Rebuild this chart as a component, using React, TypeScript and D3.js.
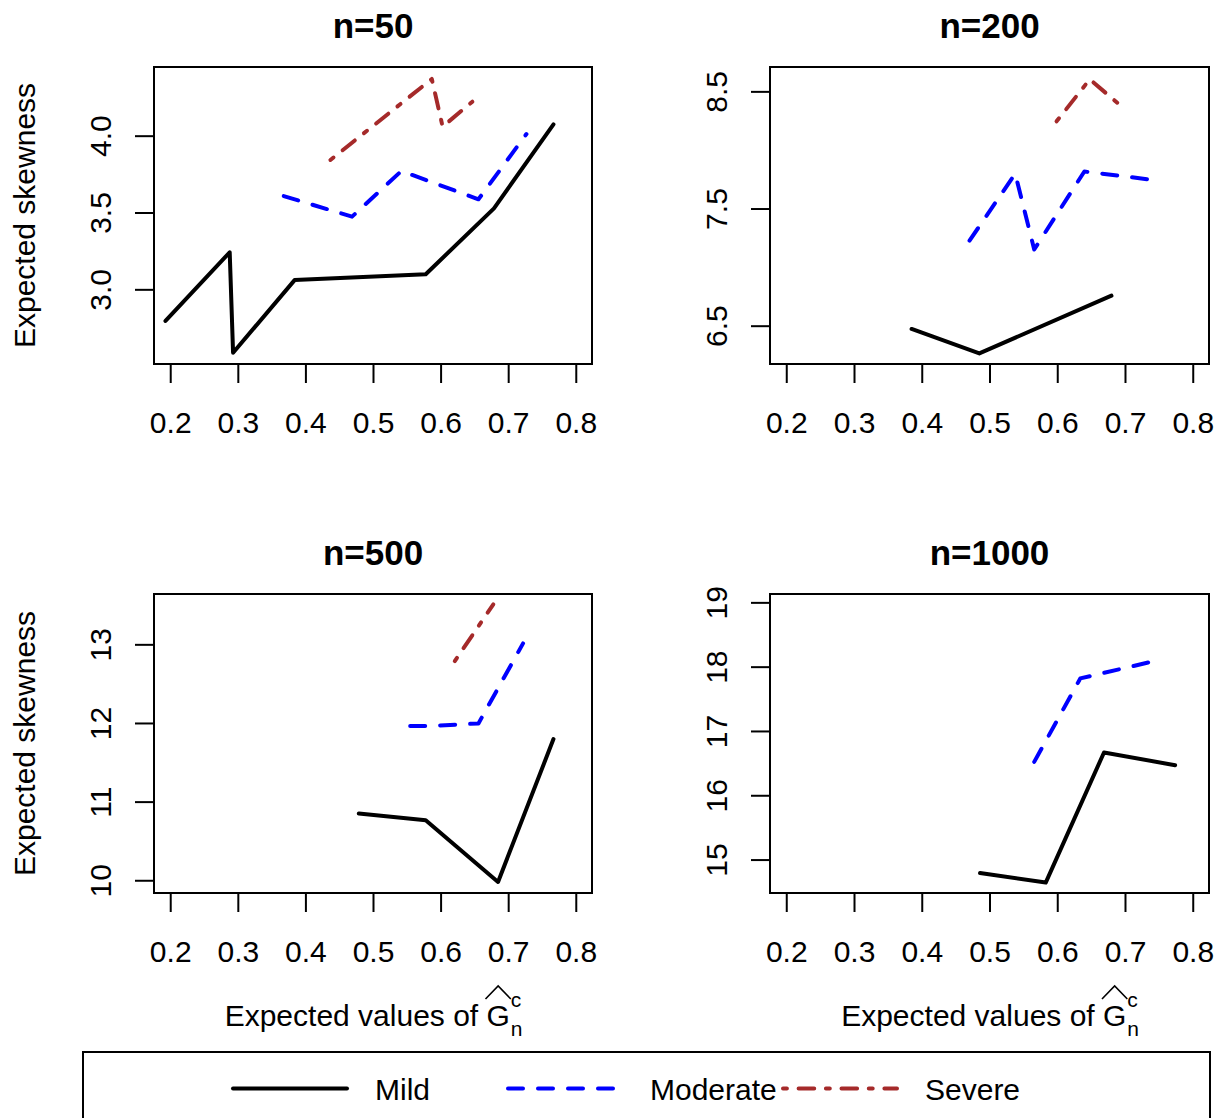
import React, { useEffect, useRef } from "react"
import * as d3 from "d3"

// values, [expected value of G, expected skewness]
const titles = ["n=50", "n=200", "n=500", "n=1000"]
const xTicks = [0.2, 0.3, 0.4, 0.5, 0.6, 0.7, 0.8]
const xLimits = [0.176, 0.824]

const mild50 = [[0.193, 2.794], [0.288, 3.241], [0.293, 2.587], [0.384, 3.06], [0.578, 3.098], [0.679, 3.527], [0.767, 4.074]]
const moderate50 = [[0.368, 3.607], [0.469, 3.473], [0.542, 3.77], [0.656, 3.586], [0.727, 4.011]]
const severe50 = [[0.437, 3.842], [0.587, 4.369], [0.603, 4.059], [0.647, 4.221]]

const mild200 = [[0.385, 6.472], [0.485, 6.263], [0.68, 6.756]]
const moderate200 = [[0.4705, 7.226], [0.538, 7.797], [0.566, 7.15], [0.64, 7.816], [0.749, 7.739]]
const severe200 = [[0.599, 8.244], [0.648, 8.603], [0.692, 8.386]]

const mild500 = [[0.479, 10.849], [0.578, 10.764], [0.685, 9.979], [0.767, 11.795]]
const moderate500 = [[0.555, 11.96], [0.578, 11.96], [0.656, 11.994], [0.722, 13.012]]
const severe500 = [[0.621, 12.787], [0.678, 13.509]]

const mild1000 = [[0.486, 14.792], [0.583, 14.642], [0.669, 16.665], [0.774, 16.468]]
const moderate1000 = [[0.566, 16.519], [0.634, 17.817], [0.735, 18.066]]
const severe1000: number[][] = []

const yLimits = [[2.514, 4.447], [6.173, 8.708], [9.838, 13.64], [14.48, 19.13]]
const yTicks = [[3.0, 3.5, 4.0], [6.5, 7.5, 8.5], [10, 11, 12, 13], [15, 16, 17, 18, 19]]
const yTickFormat = [".1f", ".1f", "d", "d"]

const seriesNames = ["Mild", "Moderate", "Severe"]
const seriesColors = ["#000000", "#0000FF", "#A52A2A"]
const seriesDash = [null, "15,15", "3.9,11.7,15.6,11.7"]
const panelData = [
  [mild50, moderate50, severe50],
  [mild200, moderate200, severe200],
  [mild500, moderate500, severe500],
  [mild1000, moderate1000, severe1000],
]

const W = 1219
const H = 1118
const cols = [[154, 592], [770, 1209]]
const rows = [[67, 364], [594, 893]]
const FONT = "'Liberation Sans', Arial, Helvetica, sans-serif"

export default function App() {
  const ref = useRef<SVGSVGElement>(null)

  useEffect(() => {
    const svg = d3.select(ref.current)
    svg.selectAll("*").remove()

    panelData.forEach((series, i) => {
      const [x0, x1] = cols[i % 2]
      const [y0, y1] = rows[Math.floor(i / 2)]
      const x = d3.scaleLinear().domain(xLimits).range([x0, x1])
      const y = d3.scaleLinear().domain(yLimits[i]).range([y1, y0])
      const g = svg.append("g")

      // axes (R style: outward ticks, rotated y labels)
      const xa = g.append("g").attr("transform", `translate(0,${y1})`)
        .call(d3.axisBottom(x).tickValues(xTicks).tickFormat(d3.format(".1f")).tickSize(19).tickSizeOuter(0))
      const ya = g.append("g").attr("transform", `translate(${x0},0)`)
        .call(d3.axisLeft(y).tickValues(yTicks[i]).tickFormat(d3.format(yTickFormat[i])).tickSize(19).tickSizeOuter(0))
      ;[xa, ya].forEach(a => {
        a.select(".domain").remove()
        a.selectAll("line").attr("stroke", "#000").attr("stroke-width", 2)
        a.selectAll("text").attr("font-family", FONT).attr("font-size", 30).attr("fill", "#000")
      })
      xa.selectAll("text").attr("y", 69).attr("dy", null)
      ya.selectAll("text")
        .attr("x", null).attr("dy", null)
        .attr("text-anchor", "middle")
        .attr("transform", "translate(-43,0) rotate(-90)")

      // lines
      const line = d3.line<number[]>().x(d => x(d[0])).y(d => y(d[1]))
      series.forEach((pts, k) => {
        if (!pts.length) return
        g.append("path")
          .attr("d", line(pts))
          .attr("fill", "none")
          .attr("stroke", seriesColors[k])
          .attr("stroke-width", 4)
          .attr("stroke-linecap", "round")
          .attr("stroke-linejoin", "round")
          .attr("stroke-dasharray", seriesDash[k])
      })

      g.append("rect")
        .attr("x", x0).attr("y", y0)
        .attr("width", x1 - x0).attr("height", y1 - y0)
        .attr("fill", "none").attr("stroke", "#000").attr("stroke-width", 2)

      g.append("text")
        .attr("x", (x0 + x1) / 2).attr("y", y0 - 29)
        .attr("text-anchor", "middle")
        .attr("font-family", FONT).attr("font-size", 35).attr("font-weight", "bold")
        .text(titles[i])

      if (i % 2 === 0) {
        g.append("text")
          .attr("transform", `translate(35,${(y0 + y1) / 2}) rotate(-90)`)
          .attr("text-anchor", "middle")
          .attr("font-family", FONT).attr("font-size", 30)
          .text("Expected skewness")
      }

      if (i >= 2) {
        const lab = g.append("g").attr("font-family", FONT).attr("fill", "#000")
        const t1 = lab.append("text").attr("font-size", 30).text("Expected values of")
        const w1 = (t1.node() as SVGTextElement).getComputedTextLength()
        const gx = w1 + 8.3
        const tG = lab.append("text").attr("x", gx).attr("font-size", 30).text("G")
        const wG = (tG.node() as SVGTextElement).getComputedTextLength()
        lab.append("path")
          .attr("d", `M${gx - 1},-27 L${gx + wG / 2},-40 L${gx + wG + 1},-27`)
          .attr("fill", "none").attr("stroke", "#000").attr("stroke-width", 1.6)
        const tc = lab.append("text").attr("x", gx + wG + 1).attr("y", -19).attr("font-size", 21).text("c")
        lab.append("text").attr("x", gx + wG + 1).attr("y", 10).attr("font-size", 21).text("n")
        const total = gx + wG + 1 + (tc.node() as SVGTextElement).getComputedTextLength()
        lab.attr("transform", `translate(${(x0 + x1) / 2 - total / 2},1026)`)
      }
    })

    // legend
    const lg = svg.append("g")
    lg.append("rect")
      .attr("x", 83).attr("y", 1052).attr("width", 1127).attr("height", 120)
      .attr("fill", "none").attr("stroke", "#000").attr("stroke-width", 2)
    const legendX = d3.scalePoint<string>().domain(seriesNames).range([232, 782])
    seriesNames.forEach((name, k) => {
      const lx = legendX(name) as number
      lg.append("line")
        .attr("x1", lx + 1).attr("x2", lx + 115).attr("y1", 1088.5).attr("y2", 1088.5)
        .attr("stroke", seriesColors[k]).attr("stroke-width", 4)
        .attr("stroke-linecap", "round")
        .attr("stroke-dasharray", seriesDash[k])
      lg.append("text")
        .attr("x", lx + 143).attr("y", 1100)
        .attr("font-family", FONT).attr("font-size", 30)
        .text(name)
    })
  }, [])

  return (
    <svg
      ref={ref}
      width={W}
      height={H}
      style={{ position: "absolute", left: 0, top: 0, background: "#fff" }}
    />
  )
}
